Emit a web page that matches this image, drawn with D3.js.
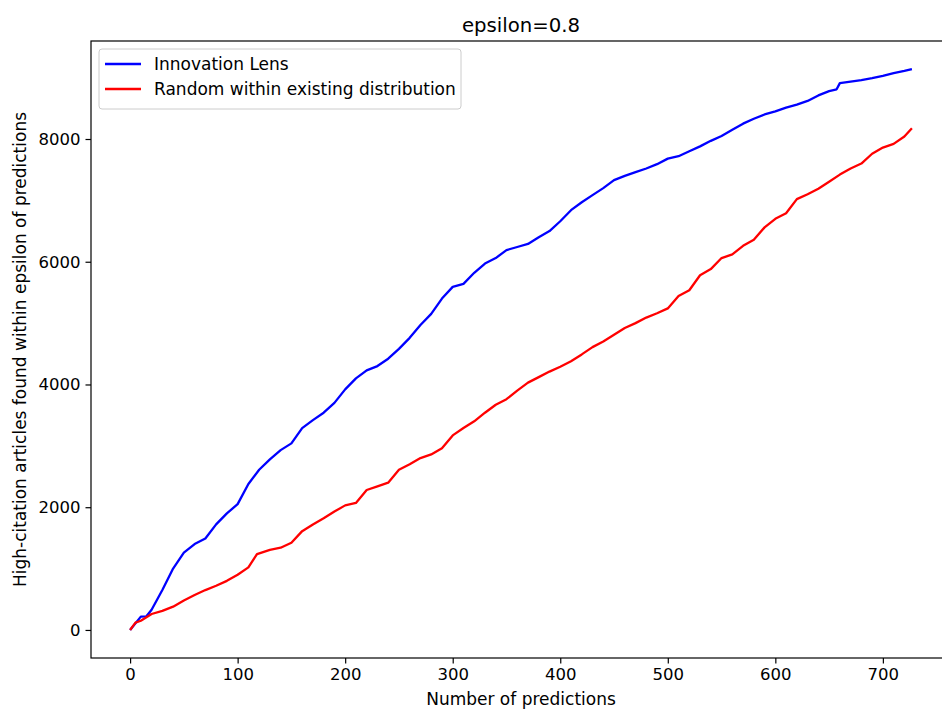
<!DOCTYPE html>
<html>
<head>
<meta charset="utf-8">
<script src="https://cdn.jsdelivr.net/npm/d3@7"></script>
<style>
  body { margin: 0; background: #fff; }
  text { font-family: "DejaVu Sans", sans-serif; fill: #000; }
</style>
</head>
<body>
<div id="chart"></div>
<script>
// Data
const lensX = [0, 10, 15, 20, 30, 40, 50, 60, 70, 80, 90, 100, 110, 120, 130, 140, 150, 160, 170, 180, 190,
  200, 210, 220, 230, 240, 250, 260, 270, 280, 290, 300, 310, 320, 330, 340, 350, 360, 370, 380, 390,
  400, 410, 420, 430, 440, 450, 460, 470, 480, 490, 500, 510, 520, 530, 540, 550, 560, 570, 580, 590,
  600, 610, 620, 630, 640, 650, 657, 660, 670, 680, 690, 700, 710, 720, 727];
const lensY = [0, 217, 220, 330, 650, 1000, 1260, 1400, 1490, 1720, 1900, 2050, 2379, 2610, 2780, 2930, 3040, 3290, 3420, 3540, 3700,
  3920, 4100, 4230, 4300, 4420, 4580, 4760, 4970, 5150, 5400, 5590, 5640, 5820, 5970, 6060, 6190, 6240, 6290, 6400, 6500,
  6660, 6840, 6970, 7086, 7200, 7331, 7400, 7460, 7520, 7590, 7680, 7720, 7800, 7880, 7970, 8050, 8150, 8250, 8330, 8400,
  8450, 8510, 8560, 8620, 8710, 8780, 8810, 8910, 8935, 8960, 8991, 9030, 9075, 9110, 9140];

const randX = [0, 5, 10, 20, 30, 40, 50, 60, 70, 80, 90, 100, 110, 118, 130, 140, 150, 160, 170, 180, 190,
  200, 210, 220, 230, 240, 250, 260, 270, 280, 290, 300, 310, 320, 330, 340, 350, 360, 370, 380, 390,
  400, 410, 420, 430, 440, 450, 460, 470, 480, 490, 500, 510, 520, 530, 540, 550, 560, 570, 580, 590,
  600, 610, 620, 630, 640, 650, 660, 670, 680, 690, 700, 710, 720, 727];
const randY = [0, 119, 150, 260, 310, 380, 480, 570, 650, 720, 800, 900, 1020, 1236, 1306, 1340, 1420, 1610, 1720, 1820, 1930,
  2030, 2070, 2280, 2340, 2400, 2610, 2700, 2800, 2860, 2960, 3170, 3290, 3400, 3540, 3670, 3760, 3900, 4030, 4120, 4210,
  4290, 4380, 4490, 4609, 4700, 4810, 4920, 5000, 5090, 5160, 5240, 5440, 5535, 5780, 5880, 6060, 6120, 6260, 6360, 6560,
  6700, 6790, 7020, 7100, 7190, 7303, 7420, 7520, 7600, 7760, 7860, 7920, 8040, 8174];

const seriesNames = ['Innovation Lens', 'Random within existing distribution'];
const seriesColors = ['#0000ff', '#ff0000'];
const xTicks = [0, 100, 200, 300, 400, 500, 600, 700];
const yTicks = [0, 2000, 4000, 6000, 8000];
const titleText = 'epsilon=0.8';
const xLabel = 'Number of predictions';
const yLabel = 'High-citation articles found within epsilon of predictions';

const svgWidth = 942;
const svgHeight = 709;

// plot box (right edge runs past the picture like the reference)
const margin = { top: 41, right: -9, bottom: 51, left: 91 };
const width = svgWidth - margin.left - margin.right;
const height = svgHeight - margin.top - margin.bottom;

const svg = d3.select('#chart')
    .append('svg')
    .attr('width', svgWidth)
    .attr('height', svgHeight);

const chartGroup = svg.append('g')
    .attr('transform', `translate(${margin.left}, ${margin.top})`);

const series = [
    lensX.map((x, i) => ({ x: x, y: lensY[i] })),
    randX.map((x, i) => ({ x: x, y: randY[i] }))
];

// matplotlib style 5% padding
const allPts = series.flat();
const xExt = d3.extent(allPts, d => d.x);
const yExt = d3.extent(allPts, d => d.y);
const xPad = (xExt[1] - xExt[0]) * 0.05;
const yPad = (yExt[1] - yExt[0]) * 0.05;

const xScale = d3.scaleLinear()
    .domain([xExt[0] - xPad, xExt[1] + xPad])
    .range([0, width]);

const yScale = d3.scaleLinear()
    .domain([yExt[0] - yPad, yExt[1] + yPad])
    .range([height, 0]);

// Axes
const bottomAxis = d3.axisBottom(xScale)
    .tickValues(xTicks)
    .tickFormat(d3.format('d'))
    .tickSizeOuter(0)
    .tickSizeInner(5.5)
    .tickPadding(5);
const leftAxis = d3.axisLeft(yScale)
    .tickValues(yTicks)
    .tickFormat(d3.format('d'))
    .tickSizeOuter(0)
    .tickSizeInner(5.5)
    .tickPadding(5);

const xAxisG = chartGroup.append('g')
    .attr('transform', `translate(0, ${height})`)
    .call(bottomAxis);
const yAxisG = chartGroup.append('g')
    .call(leftAxis);

[xAxisG, yAxisG].forEach(g => {
    g.select('.domain').remove();
    g.selectAll('line').attr('stroke', '#000').attr('stroke-width', 1.2);
    g.selectAll('text')
        .style('font-family', '"DejaVu Sans", sans-serif')
        .style('font-size', '16.5px')
        .attr('fill', '#000');
});

// Lines
const line = d3.line()
    .x(d => xScale(d.x))
    .y(d => yScale(d.y));

chartGroup.append('clipPath')
    .attr('id', 'clip')
    .append('rect')
    .attr('width', width)
    .attr('height', height);

chartGroup.append('g')
    .attr('clip-path', 'url(#clip)')
    .selectAll('path')
    .data(series)
    .enter()
    .append('path')
    .attr('d', line)
    .attr('fill', 'none')
    .attr('stroke', (d, i) => seriesColors[i])
    .attr('stroke-width', 2.3)
    .attr('stroke-linejoin', 'round');

// frame
chartGroup.append('rect')
    .attr('width', width)
    .attr('height', height)
    .attr('fill', 'none')
    .attr('stroke', '#000')
    .attr('stroke-width', 1.2);

// Legend
const legend = chartGroup.append('g')
    .attr('transform', 'translate(8, 8)');
legend.append('rect')
    .attr('width', 362)
    .attr('height', 60)
    .attr('rx', 3)
    .attr('fill', '#fff')
    .attr('fill-opacity', 0.8)
    .attr('stroke', '#cccccc')
    .attr('stroke-width', 1);

seriesNames.forEach((name, i) => {
    const row = legend.append('g')
        .attr('transform', `translate(0, ${15 + i * 25})`);
    row.append('line')
        .attr('x1', 6).attr('x2', 42)
        .attr('stroke', seriesColors[i])
        .attr('stroke-width', 2.3);
    row.append('text')
        .attr('x', 55)
        .attr('dy', '0.35em')
        .style('font-size', '17px')
        .text(name);
});

// Title and axis labels
svg.append('text')
    .attr('x', 521)
    .attr('y', 32)
    .attr('text-anchor', 'middle')
    .style('font-size', '19.7px')
    .text(titleText);

svg.append('text')
    .attr('x', 521)
    .attr('y', 705)
    .attr('text-anchor', 'middle')
    .style('font-size', '17px')
    .text(xLabel);

svg.append('text')
    .attr('transform', `translate(26, ${margin.top + height / 2}) rotate(-90)`)
    .attr('text-anchor', 'middle')
    .style('font-size', '17px')
    .text(yLabel);
</script>
</body>
</html>
